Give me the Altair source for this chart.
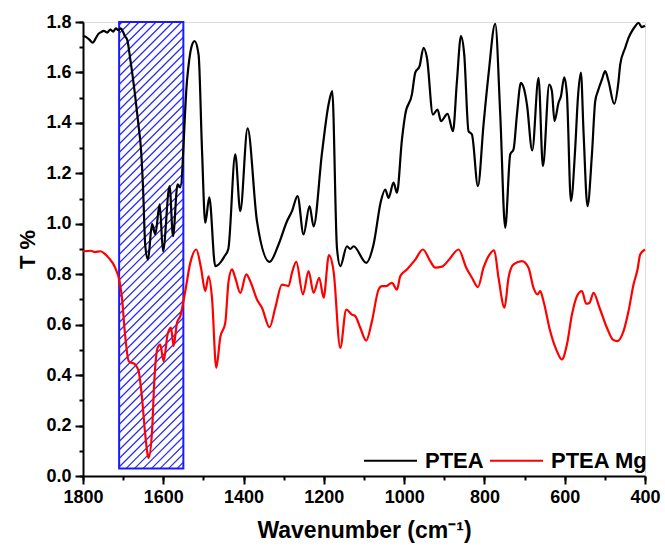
import altair as alt
import numpy as np
import pandas as pd

# ---- data ----
ptea_wn = [1800, 1792, 1784, 1776, 1770, 1762, 1755, 1748, 1740, 1732, 1725, 1718, 1712, 1706, 1700,
           1696, 1690, 1682, 1670, 1661.5, 1655.5, 1650.6, 1644.8, 1638, 1628, 1620, 1609, 1600.7,
           1584.3, 1575.8, 1564.4, 1557.7, 1541, 1530, 1522, 1512, 1503.6, 1495.4, 1485.4, 1470.5,
           1458, 1448, 1438, 1420.7, 1408.2, 1390, 1366.6, 1335.2, 1312.8, 1291.9, 1279.4, 1265.5,
           1250.6, 1235.6, 1225.6, 1204.7, 1188.3, 1179.1, 1167.4, 1159.1, 1142.5, 1134.2, 1126,
           1094.4, 1076.2, 1057.8, 1047.1, 1038.8, 1026.4, 1017.9, 1005.5, 997.3, 980.6, 972.3,
           961.6, 951.7, 943.2, 928.3, 916.8, 908.3, 891.9, 878.4, 868.5, 858.5, 850.3, 839.6,
           831.1, 816.2, 802.2, 789.8, 773.1, 760.6, 748.2, 735.7, 727.5, 719, 709.1, 700.9, 694.1,
           680.9, 665.2, 654.3, 638.6, 631.9, 625.4, 615.4, 609.4, 601.2, 594.5, 584.5, 573.8,
           567.1, 559.6, 553.2, 543.2, 532.2, 524, 517.3, 507.3, 499.1, 490.9, 476.7, 466, 461.7,
           449.3, 441, 432, 424.4, 416.2, 408, 400]
ptea_t = [1.745, 1.74, 1.73, 1.718, 1.73, 1.752, 1.76, 1.765, 1.758, 1.77, 1.762, 1.775, 1.768, 1.775, 1.76,
          1.745, 1.73, 1.65, 1.506, 1.387, 1.295, 1.149, 0.911, 0.858, 1.0, 0.958, 1.077, 0.891,
          1.149, 0.951, 1.156, 1.144, 1.565, 1.70, 1.724, 1.67, 1.295, 1.004, 1.105, 0.832,
          0.846, 0.87, 0.9, 1.275, 1.05, 1.378, 1.01, 0.849, 0.918, 1.01, 1.05, 1.11,
          0.958, 1.07, 0.99, 1.28, 1.473, 1.526, 0.905, 0.832, 0.911, 0.9, 0.911,
          0.845, 0.918, 1.09, 1.136, 1.103, 1.163, 1.123, 1.334, 1.433, 1.513, 1.599,
          1.625, 1.698, 1.658, 1.433, 1.453, 1.407, 1.436, 1.367, 1.565, 1.744, 1.671, 1.367,
          1.354, 1.149, 1.394, 1.592, 1.793, 1.433, 0.984, 1.275, 1.295, 1.433, 1.559, 1.532, 1.473,
          1.291, 1.579, 1.228, 1.552, 1.526, 1.407, 1.48, 1.506, 1.581, 1.513, 1.09, 1.301,
          1.5, 1.599, 1.367, 1.07, 1.275, 1.486, 1.526, 1.572, 1.605, 1.565, 1.476, 1.565, 1.632,
          1.698, 1.737, 1.765, 1.783, 1.797, 1.78, 1.785]

mg_wn = [1800, 1780, 1770, 1757, 1745, 1736, 1720, 1709, 1703, 1696, 1686, 1670, 1661.5, 1653, 1645,
         1636.6, 1628, 1622.4, 1614.2, 1607.5, 1599.3, 1589.3, 1580.8, 1574.3, 1565.9, 1557.7,
         1545.2, 1532.7, 1517.8, 1506.1, 1495.4, 1487.2, 1478.7, 1468, 1458, 1445.6, 1437.4,
         1428.9, 1420.7, 1408.2, 1393.3, 1383.3, 1366.6, 1354.2, 1335.2, 1321, 1304.4, 1287.9,
         1279.4, 1268.7, 1252.1, 1238.1, 1225.6, 1211.5, 1200.7, 1187.3, 1175.8, 1159.1, 1144.2,
         1130, 1121.8, 1109.3, 1094.4, 1080.2, 1063.8, 1055.3, 1044.6, 1030.4, 1017.9, 1009.7,
         993, 972.3, 953.2, 935, 922.5, 905.8, 889.4, 864.5, 845.3, 831.1, 816.2, 802.2, 787.3,
         775.6, 764.9, 750, 740, 727.5, 706.6, 690.2, 677.7, 667.7, 661, 652.8, 636.1, 619.4,
         607, 594.5, 582, 569.6, 557.1, 546.4, 538.2, 528.2, 513.3, 494.9, 479.9, 468.5, 453.5,
         441, 428.6, 418.6, 412, 400]
mg_t = [0.891, 0.893, 0.888, 0.891, 0.88, 0.865, 0.826, 0.772, 0.707, 0.574, 0.455, 0.442, 0.416, 0.31, 0.165,
        0.072, 0.178, 0.376, 0.508, 0.521, 0.455, 0.561, 0.588, 0.515, 0.607, 0.634,
        0.733, 0.845, 0.898, 0.826, 0.733, 0.792, 0.707, 0.429, 0.55, 0.607, 0.772,
        0.819, 0.786, 0.726, 0.799, 0.772, 0.7, 0.667, 0.59, 0.667, 0.759, 0.753,
        0.806, 0.849, 0.72, 0.812, 0.726, 0.786, 0.707, 0.876, 0.812, 0.508, 0.66,
        0.64, 0.634, 0.588, 0.537, 0.614, 0.739, 0.753, 0.753, 0.766, 0.739, 0.792,
        0.819, 0.858, 0.898, 0.852, 0.826, 0.83, 0.855, 0.898, 0.826, 0.786, 0.749, 0.826, 0.878,
        0.895, 0.786, 0.667, 0.786, 0.839, 0.852, 0.826, 0.746, 0.72, 0.733, 0.693, 0.574, 0.495,
        0.462, 0.521, 0.64, 0.713, 0.733, 0.683, 0.687, 0.726, 0.667, 0.588, 0.541, 0.535, 0.574,
        0.654, 0.759, 0.819, 0.878, 0.898]

series_names = ["PTEA", "PTEA Mg"]
series_colors = ["#000000", "#FF0000"]

# highlighted band
band_wn = [1710, 1550]
band_t = [0.03, 1.8]

x_major = [1800, 1600, 1400, 1200, 1000, 800, 600, 400]
x_minor = list(range(400, 1801, 100))
y_major = [0.0, 0.2, 0.4, 0.6, 0.8, 1.0, 1.2, 1.4, 1.6, 1.8]
y_minor = [round(0.1 * i, 1) for i in range(19)]

# ---- layout ----
W, H = 562, 454
FONT = "Liberation Sans"
X_DOM = [400, 1800]
Y_DOM = [0, 1.8]
BLUE = "#1a1aff"
HATCH_BLUE = "#2a2aff"

df = pd.concat([
    pd.DataFrame({"wn": ptea_wn, "t": ptea_t, "series": series_names[0]}),
    pd.DataFrame({"wn": mg_wn, "t": mg_t, "series": series_names[1]}),
])

# hatch segments (45 degree "/" lines inside the band) computed in pixel space
def px_x(wn):
    return (X_DOM[1] - wn) / (X_DOM[1] - X_DOM[0]) * W
def px_y(t):
    return (Y_DOM[1] - t) / (Y_DOM[1] - Y_DOM[0]) * H
def wn_of(px):
    return X_DOM[1] - px / W * (X_DOM[1] - X_DOM[0])
def t_of(py):
    return Y_DOM[1] - py / H * (Y_DOM[1] - Y_DOM[0])

xl, xr = px_x(band_wn[0]), px_x(band_wn[1])
yt, yb = px_y(band_t[1]), px_y(band_t[0])
spacing = 8.5
segs = []
c = xl + yt + 3
while c < xr + yb:
    x0 = max(xl, c - yb)
    x1 = min(xr, c - yt)
    if x1 > x0:
        segs.append({"a": wn_of(x0), "b": wn_of(x1), "ta": t_of(c - x0), "tb": t_of(c - x1)})
    c += spacing
hatch_df = pd.DataFrame(segs)

rect_df = pd.DataFrame({"x0": [band_wn[0]], "x1": [band_wn[1]], "y0": [band_t[0]], "y1": [band_t[1]]})

xscale = alt.Scale(domain=X_DOM, reverse=True, nice=False, zero=False)
yscale = alt.Scale(domain=Y_DOM, nice=False, zero=False)

major_x = alt.Axis(values=x_major, orient="bottom", format="d", title="Wavenumber (cm\u207b\u00b9)",
                   labelFont=FONT, labelFontWeight="bold", labelFontSize=18, labelColor="black",
                   titleFont=FONT, titleFontWeight="bold", titleFontSize=23, titleColor="black",
                   tickSize=8, tickWidth=2, tickColor="black", domainColor="black", domainWidth=2,
                   labelPadding=4, titlePadding=13, grid=False, labelFlush=False, labelOverlap=False)
major_y = alt.Axis(values=y_major, orient="left", format=".1f", title="T %",
                   labelFont=FONT, labelFontWeight="bold", labelFontSize=18, labelColor="black",
                   titleFont=FONT, titleFontWeight="bold", titleFontSize=22, titleColor="black",
                   tickSize=8, tickWidth=2, tickColor="black", domainColor="black", domainWidth=2,
                   labelPadding=4, titlePadding=6, grid=False, labelFlush=False, labelOverlap=False)
minor_x = alt.Axis(values=x_minor, orient="bottom", title=None, labels=False, domain=False,
                   tickSize=4, tickWidth=2, tickColor="black", grid=False)
minor_y = alt.Axis(values=y_minor, orient="left", title=None, labels=False, domain=False,
                   tickSize=4, tickWidth=2, tickColor="black", grid=False)

hatch = alt.Chart(hatch_df).mark_rule(color=HATCH_BLUE, strokeWidth=1.2).encode(
    x=alt.X("a:Q", scale=xscale, axis=minor_x),
    x2="b:Q",
    y=alt.Y("ta:Q", scale=yscale, axis=minor_y),
    y2="tb:Q",
)

rect = alt.Chart(rect_df).mark_rect(fill="white", fillOpacity=0, stroke=BLUE, strokeWidth=2).encode(
    x=alt.X("x0:Q", scale=xscale, axis=major_x),
    x2="x1:Q",
    y=alt.Y("y0:Q", scale=yscale, axis=major_y),
    y2="y1:Q",
)

lines = alt.Chart(df).mark_line(strokeWidth=2.2, interpolate="monotone").encode(
    x=alt.X("wn:Q", scale=xscale, axis=None),
    y=alt.Y("t:Q", scale=yscale, axis=None),
    color=alt.Color("series:N",
                    scale=alt.Scale(domain=series_names, range=series_colors),
                    legend=alt.Legend(title=None, orient="none", direction="horizontal",
                                      legendX=280, legendY=411, symbolType="stroke",
                                      symbolSize=2809, symbolStrokeWidth=2,
                                      labelFont=FONT, labelFontWeight="bold", labelFontSize=22,
                                      labelColor="black", labelOffset=7, columnPadding=2,
                                      padding=0)),
)

chart = alt.layer(hatch, rect, lines).resolve_axis(x="independent", y="independent").properties(
    width=W, height=H,
    autosize=alt.AutoSizeParams(type="none"),
    padding={"left": 83, "top": 22, "right": 20, "bottom": 75},
).configure_view(stroke=None).configure(background="white")

chart.save("out.html", embed_options={"renderer": "svg", "actions": False})
